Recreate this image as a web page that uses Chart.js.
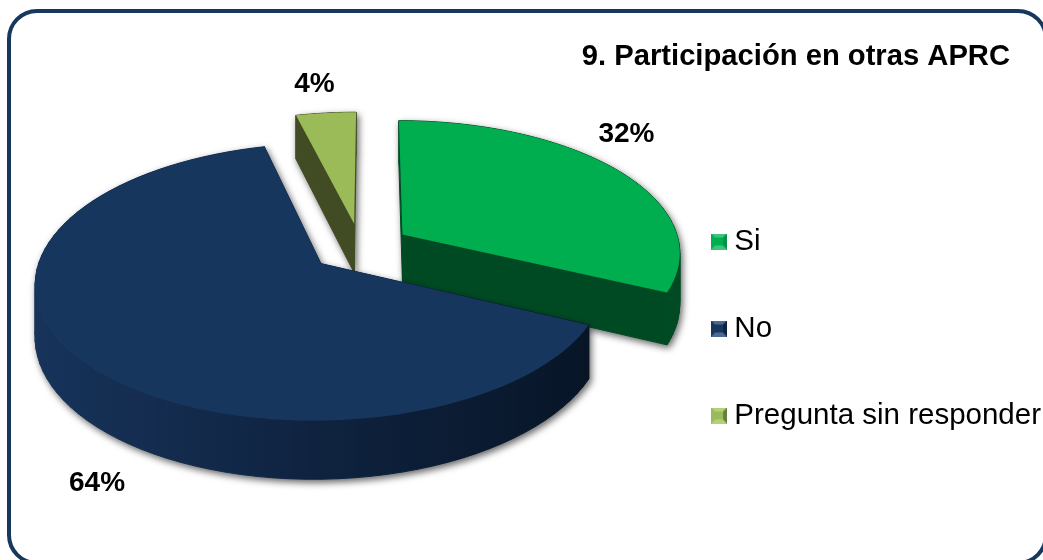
<!DOCTYPE html>
<html>
<head>
<meta charset="utf-8">
<style>
html,body{margin:0;padding:0;background:#fff;overflow:hidden}
#frame{position:absolute;left:7px;top:9px;width:1041px;height:556px;border:4px solid #17375e;border-radius:30px;box-sizing:border-box}
canvas{position:absolute;left:0;top:0}
</style>
<script src="https://cdn.jsdelivr.net/npm/chart.js@4"></script>
</head>
<body>
<div id="frame"></div>
<canvas id="pie" width="1043" height="560"></canvas>
<script>
const categories = ['Si', 'No', 'Pregunta sin responder'];
const values = [32, 64, 4];
const colors = ['#00ae50', '#17365d', '#9bbb59'];
const sideStops = [
  ['#004a23', '#004a23', '#004a23'],
  ['#17335a', '#0f2340', '#071527'],
  ['#414c24', '#414c24', '#414c24']
];
const bevels = [
  ['#3cc47c', '#0a8f47'],
  ['#4a6a94', '#0e2340'],
  ['#b5cf7a', '#66803a']
];
const explode = [0.136, 0.23, 0.169];
const explodeTurn = [0, 0, -0.25];
const labelRadius = [1.40, 1.68, 1.47];
const labelTurn = [-0.173, -0.384, -0.04];

// hand tuned camera for the tilted disc
const cam = {cx: 371, cy: 244, rx: 277, ry: 131, k: 0.13, depth: 50};
const fontName = '"Liberation Sans", Arial, sans-serif';

function project(u, v, z) {
  const w = 1 - cam.k * v;
  return [cam.cx + cam.rx * u / w, cam.cy + (cam.ry * v + z * cam.depth) / w];
}

function slicePts(arc, i, z) {
  const {startAngle, endAngle} = arc.getProps(['startAngle', 'endAngle'], true);
  const mid = (startAngle + endAngle) / 2 + explodeTurn[i];
  const u0 = Math.cos(mid) * explode[i], v0 = Math.sin(mid) * explode[i];
  const pts = [project(u0, v0, z)];
  const steps = 80;
  for (let s = 0; s <= steps; s++) {
    const a = startAngle + (endAngle - startAngle) * s / steps;
    pts.push(project(u0 + Math.cos(a), v0 + Math.sin(a), z));
  }
  return pts;
}

function tracePoly(ctx, pts) {
  ctx.beginPath();
  pts.forEach((p, n) => n ? ctx.lineTo(p[0], p[1]) : ctx.moveTo(p[0], p[1]));
  ctx.closePath();
}

function renderSlice(chart, arc, i) {
  const off = document.createElement('canvas');
  off.width = chart.width;
  off.height = chart.height;
  const c = off.getContext('2d');
  const top = slicePts(arc, i, 0);
  const bottom = slicePts(arc, i, 1);
  const wall = c.createLinearGradient(cam.cx - cam.rx - 60, 0, cam.cx + cam.rx - 60, 0);
  sideStops[i].forEach((col, n) => wall.addColorStop(n / 2, col));
  c.fillStyle = wall;
  c.strokeStyle = wall;
  c.lineWidth = 1;
  for (let n = 0; n < top.length; n++) {
    const m = (n + 1) % top.length;
    tracePoly(c, [top[n], top[m], bottom[m], bottom[n]]);
    c.fill();
    c.stroke();
  }
  tracePoly(c, top);
  c.fillStyle = colors[i];
  c.fill();
  return off;
}

const pie3d = {
  id: 'pie3d',
  afterLayout(chart) {
    chart.titleBlock.right = 1010;
  },
  beforeDatasetDraw(chart) {
    const ctx = chart.ctx;
    const arcs = chart.getDatasetMeta(0).data;
    // back to front
    [2, 0, 1].forEach(i => {
      const img = renderSlice(chart, arcs[i], i);
      ctx.save();
      ctx.shadowColor = 'rgba(0,0,0,0.6)';
      ctx.shadowBlur = 7;
      ctx.shadowOffsetX = 2;
      ctx.shadowOffsetY = 3;
      ctx.drawImage(img, 0, 0);
      ctx.restore();
    });
    ctx.save();
    ctx.fillStyle = '#000';
    ctx.font = 'bold 28px ' + fontName;
    ctx.textAlign = 'center';
    ctx.textBaseline = 'middle';
    arcs.forEach((arc, i) => {
      const {startAngle, endAngle} = arc.getProps(['startAngle', 'endAngle'], true);
      const a = (startAngle + endAngle) / 2 + labelTurn[i];
      const p = project(Math.cos(a) * labelRadius[i], Math.sin(a) * labelRadius[i], 0);
      ctx.fillText(values[i] + '%', p[0], p[1]);
    });
    ctx.restore();
    return false;
  }
};

// small bevelled square used as legend marker
function legendMarker(i) {
  const s = 16, b = 4;
  const m = document.createElement('canvas');
  m.width = s;
  m.height = s;
  const c = m.getContext('2d');
  c.fillStyle = colors[i];
  c.fillRect(0, 0, s, s);
  c.fillStyle = bevels[i][0];
  tracePoly(c, [[0, 0], [s, 0], [s - b, b], [b, b]]);
  c.fill();
  tracePoly(c, [[0, s], [s, s], [s - b, s - b], [b, s - b]]);
  c.fill();
  c.fillStyle = bevels[i][1];
  tracePoly(c, [[s, 0], [s, s], [s - b, s - b], [s - b, b]]);
  c.fill();
  return m;
}

new Chart(document.getElementById('pie').getContext('2d'), {
  type: 'pie',
  data: {
    labels: categories,
    datasets: [{data: values, backgroundColor: colors, borderWidth: 0}]
  },
  options: {
    responsive: false,
    animation: false,
    layout: {padding: {top: 39, right: -8, bottom: -58, left: 0}},
    plugins: {
      tooltip: {enabled: false},
      title: {
        display: true,
        text: '9. Participación en otras APRC',
        align: 'end',
        color: '#000',
        font: {family: fontName, size: 29.2, weight: 'bold'},
        padding: {top: 0, bottom: 0}
      },
      legend: {
        position: 'right',
        labels: {
          color: '#000',
          font: {family: fontName, size: 29.5},
          usePointStyle: true,
          boxWidth: 1,
          boxHeight: 16,
          padding: 57.5,
          generateLabels: () => categories.map((name, i) => ({
            text: name,
            pointStyle: legendMarker(i),
            fontColor: '#000',
            lineWidth: 0,
            hidden: false,
            index: i
          }))
        }
      }
    }
  },
  plugins: [pie3d]
});
</script>
</body>
</html>
